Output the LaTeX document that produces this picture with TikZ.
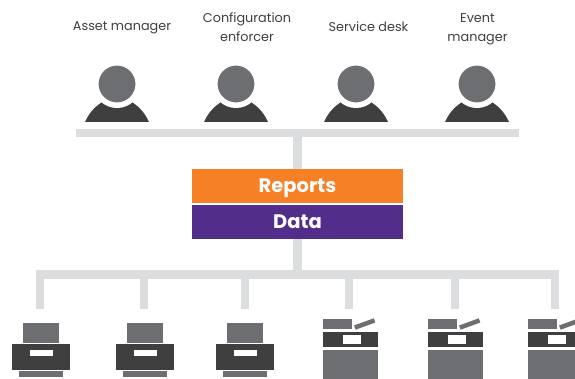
\documentclass[tikz,border=0pt]{standalone}
\usepackage{fontspec}
\setmainfont{Poppins}
\definecolor{headgray}{HTML}{6D6E71}
\definecolor{darkgray}{HTML}{3F3F3F}
\definecolor{busgray}{HTML}{DCDDDE}
\definecolor{reportsorange}{HTML}{F58025}
\definecolor{datapurple}{HTML}{522D8A}
\tikzset{
  rolelabel/.style={font=\fontsize{12.8}{19}\selectfont, text=darkgray, align=center, inner sep=0pt},
  head/.style={shape=circle, minimum size=42.5pt, inner sep=0pt, fill=headgray, draw=white, line width=5.5pt},
  bus/.style={draw=busgray, line width=8.5pt},
  layerbox/.style={minimum width=211pt, minimum height=34pt, inner sep=0pt, text height=14pt, text depth=0pt, text=white, font=\fontsize{19.5}{22}\selectfont\bfseries},
  block/.style={shape=rectangle, inner sep=0pt},
  paper/.style={block, fill=headgray, minimum width=36pt, minimum height=20pt},
  printerbody/.style={block, fill=darkgray, minimum width=58pt, minimum height=26pt},
  slot/.style={block, fill=white, minimum width=23pt, minimum height=6pt},
  tray/.style={block, fill=headgray, minimum width=44pt, minimum height=6pt},
  scanner/.style={block, fill=headgray, minimum width=29pt, minimum height=10pt},
  lid/.style={block, fill=headgray, minimum width=21pt, minimum height=4.5pt, rotate=20},
  panel/.style={block, fill=darkgray, minimum width=55pt, minimum height=15.5pt},
  display/.style={block, fill=white, minimum width=18pt, minimum height=9pt},
  cabinet/.style={block, fill=headgray, minimum width=55pt, minimum height=29pt},
}
\newcommand{\shoulders}[1]{\fill[darkgray,shift={(#1,0)}] (-32,122) .. controls (-27,111) and (-20,105) .. (-13,101) -- (13,101) .. controls (20,105) and (27,111) .. (32,122) -- cycle;}

\begin{document}
\begin{tikzpicture}[x=1pt,y=-1pt]
\clip (0,0) rectangle (575,379);

\node [rolelabel] (asset) at (122,28) {Asset manager};
\node [rolelabel] (config) at (247,27) {Configuration\\enforcer};
\node [rolelabel] (desk) at (368.5,26.5) {Service desk};
\node [rolelabel] (event) at (477.5,29.5) {Event\\manager};

\shoulders{117}
\shoulders{236}
\shoulders{356}
\shoulders{477}
\node [head] (head1) at (117,84) {};
\node [head] (head2) at (236,84) {};
\node [head] (head3) at (356,84) {};
\node [head] (head4) at (477,84) {};

\node [layerbox, fill=reportsorange] (reports) at (297.5,186) {Reports};
\node [layerbox, fill=datapurple] (data) at (297.5,222) {Data};

\coordinate (topL) at (76,133);
\coordinate (topM) at (297.5,133);
\coordinate (topR) at (519,133);
\coordinate (botL) at (40,274.5);
\coordinate (botM) at (297.5,274.5);
\coordinate (botR) at (555,274.5);
\coordinate (drop1) at (40,309);
\coordinate (join2) at (144,274.5);
\coordinate (drop2) at (144,309);
\coordinate (join3) at (245,274.5);
\coordinate (drop3) at (245,309);
\coordinate (join4) at (349,274.5);
\coordinate (drop4) at (349,309);
\coordinate (join5) at (455,274.5);
\coordinate (drop5) at (455,309);
\coordinate (drop6) at (555,309);

% printers
\node [paper] (paper1) at (41,333) {};
\node [printerbody] (body1) at (41,357) {};
\node [slot] (slot1) at (41,353) {};
\node [tray] (tray1) at (41,374) {};
\node [paper] (paper2) at (145,333) {};
\node [printerbody] (body2) at (145,357) {};
\node [slot] (slot2) at (145,353) {};
\node [tray] (tray2) at (145,374) {};
\node [paper] (paper3) at (245,333) {};
\node [printerbody] (body3) at (245,357) {};
\node [slot] (slot3) at (245,353) {};
\node [tray] (tray3) at (245,374) {};

% copiers
\node [scanner] (scan4) at (337.5,324) {};
\node [lid] (lid4) at (364.7,324) {};
\node [panel] (panel4) at (350.5,339.5) {};
\node [display] (display4) at (352,339.5) {};
\node [cabinet] (cabinet4) at (350.5,364.5) {};
\node [scanner] (scan5) at (442.5,324) {};
\node [lid] (lid5) at (469.7,324) {};
\node [panel] (panel5) at (455.5,339.5) {};
\node [display] (display5) at (457,339.5) {};
\node [cabinet] (cabinet5) at (455.5,364.5) {};
\node [scanner] (scan6) at (542.5,324) {};
\node [lid] (lid6) at (569.7,324) {};
\node [panel] (panel6) at (555.5,339.5) {};
\node [display] (display6) at (557,339.5) {};
\node [cabinet] (cabinet6) at (555.5,364.5) {};

\draw [bus] (topL) -- (topR);
\draw [bus] (topM) -- (reports.north);
\draw [bus] (data.south) -- (botM);
\draw [bus] (drop1) -- (botL) -- (botR) -- (drop6);
\draw [bus] (join2) -- (drop2);
\draw [bus] (join3) -- (drop3);
\draw [bus] (join4) -- (drop4);
\draw [bus] (join5) -- (drop5);
\end{tikzpicture}
\end{document}
